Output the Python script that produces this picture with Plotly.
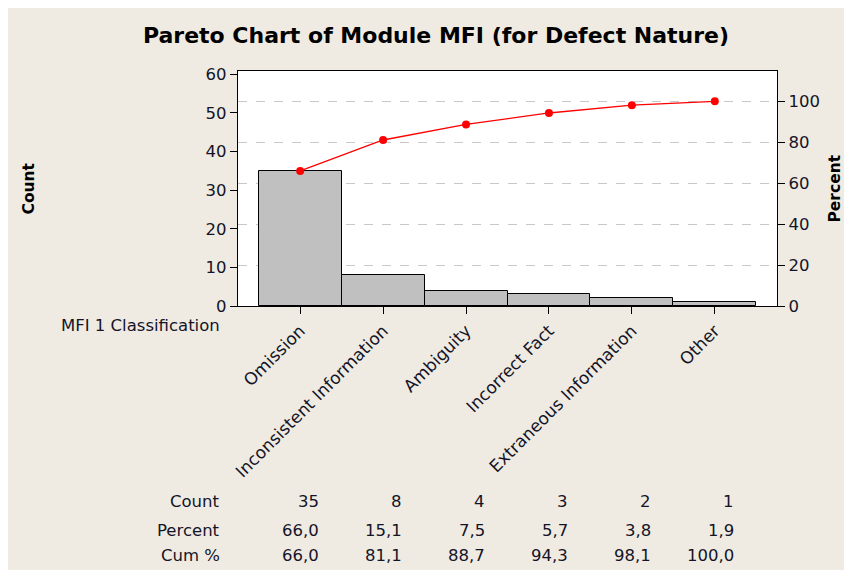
import plotly.graph_objects as go

# Pareto data
categories = ['Omission', 'Inconsistent Information', 'Ambiguity',
              'Incorrect Fact', 'Extraneous Information', 'Other']
counts = [35, 8, 4, 3, 2, 1]
percent = [66.0, 15.1, 7.5, 5.7, 3.8, 1.9]
cum_pct = [66.0, 81.1, 88.7, 94.3, 98.1, 100.0]

count_ticks = [0, 10, 20, 30, 40, 50, 60]
pct_ticks = [0, 20, 40, 60, 80, 100]

# page body margin is 8px, so the figure sits 8px in from the top/left
OFF = 8
W, H = 852 - OFF, 570 - OFF
L, R, T, B = 230, 75, 63, 264
BG = '#efebe2'
FONT = 'DejaVu Sans'
TXT = '#141428'

total = sum(counts)
ymax = 60.85
x = list(range(len(categories)))
cat_px = (W - L - R) / 6.5  # pixels per category


# helpers: screenshot pixel -> paper coords
def px_x(p):
    return (p - OFF - L) / (W - L - R)


def px_y(p):
    return (H - B - (p - OFF)) / (H - T - B)


fig = go.Figure()
fig.add_trace(go.Bar(x=x, y=counts, marker=dict(color='#c0c0c0',
                     line=dict(color='black', width=1)), width=1))
fig.add_trace(go.Scatter(x=x, y=cum_pct, yaxis='y2', mode='lines+markers',
                         line=dict(color='#ff0000', width=1.3),
                         marker=dict(color='#ff0000', size=8)))

fig.update_layout(
    width=W, height=H,
    margin=dict(l=L, r=R, t=T, b=B),
    paper_bgcolor=BG, plot_bgcolor='white',
    showlegend=False, bargap=0,
    font=dict(family=FONT, size=16.5, color=TXT),
    title=dict(text='<b>Pareto Chart of Module MFI (for Defect Nature)</b>',
               xref='container', x=(436 - OFF) / W, xanchor='center',
               yref='container', y=1 - (35 - OFF) / H, yanchor='middle',
               font=dict(family=FONT, size=22, color='black')),
    xaxis=dict(range=[-0.75, 5.75], tickmode='array', tickvals=x,
               ticktext=categories, tickangle=-45, ticks='outside',
               ticklen=7, tickcolor='black', showline=True,
               linecolor='black', linewidth=1.2, mirror=True,
               showgrid=False, zeroline=False,
               tickfont=dict(size=17)),
    yaxis=dict(range=[0, ymax], tickvals=count_ticks, ticks='outside',
               ticklen=7, tickcolor='black', showline=True,
               linecolor='black', linewidth=1.2, showgrid=False,
               zeroline=False),
    yaxis2=dict(range=[0, ymax / total * 100], tickvals=pct_ticks,
                overlaying='y', side='right', ticks='outside', ticklen=7,
                tickcolor='black', showline=True, linecolor='black',
                linewidth=1.2, showgrid=True, gridcolor='#c8c8c8',
                griddash='dash', gridwidth=1.2, zeroline=False),
)

ann = []
ann.append(dict(text='<b>Count</b>', xref='paper', yref='paper',
                x=px_x(28), y=0.5, xanchor='center', yanchor='middle',
                textangle=-90, showarrow=False,
                font=dict(size=15.5, color='black')))
ann.append(dict(text='<b>Percent</b>', xref='paper', yref='paper',
                x=px_x(834), y=0.5, xanchor='center', yanchor='middle',
                textangle=-90, showarrow=False,
                font=dict(size=15.5, color='black')))
ann.append(dict(text='MFI 1 Classification', xref='paper', yref='paper',
                x=px_x(222), y=px_y(325), xanchor='right', yanchor='middle',
                showarrow=False))

rows = [('Count', [str(c) for c in counts], 502),
        ('Percent', [f'{p:.1f}'.replace('.', ',') for p in percent], 530),
        ('Cum %', [f'{p:.1f}'.replace('.', ',') for p in cum_pct], 555)]
for label, vals, ypix in rows:
    ann.append(dict(text=label, xref='paper', yref='paper', x=px_x(222),
                    y=px_y(ypix), xanchor='right', yanchor='middle',
                    showarrow=False))
    for i, v in enumerate(vals):
        ann.append(dict(text=v, xref='x', yref='paper', x=i + 21 / cat_px,
                        y=px_y(ypix), xanchor='right', yanchor='middle',
                        showarrow=False))
fig.update_layout(annotations=ann)

fig.write_html('out.html')
